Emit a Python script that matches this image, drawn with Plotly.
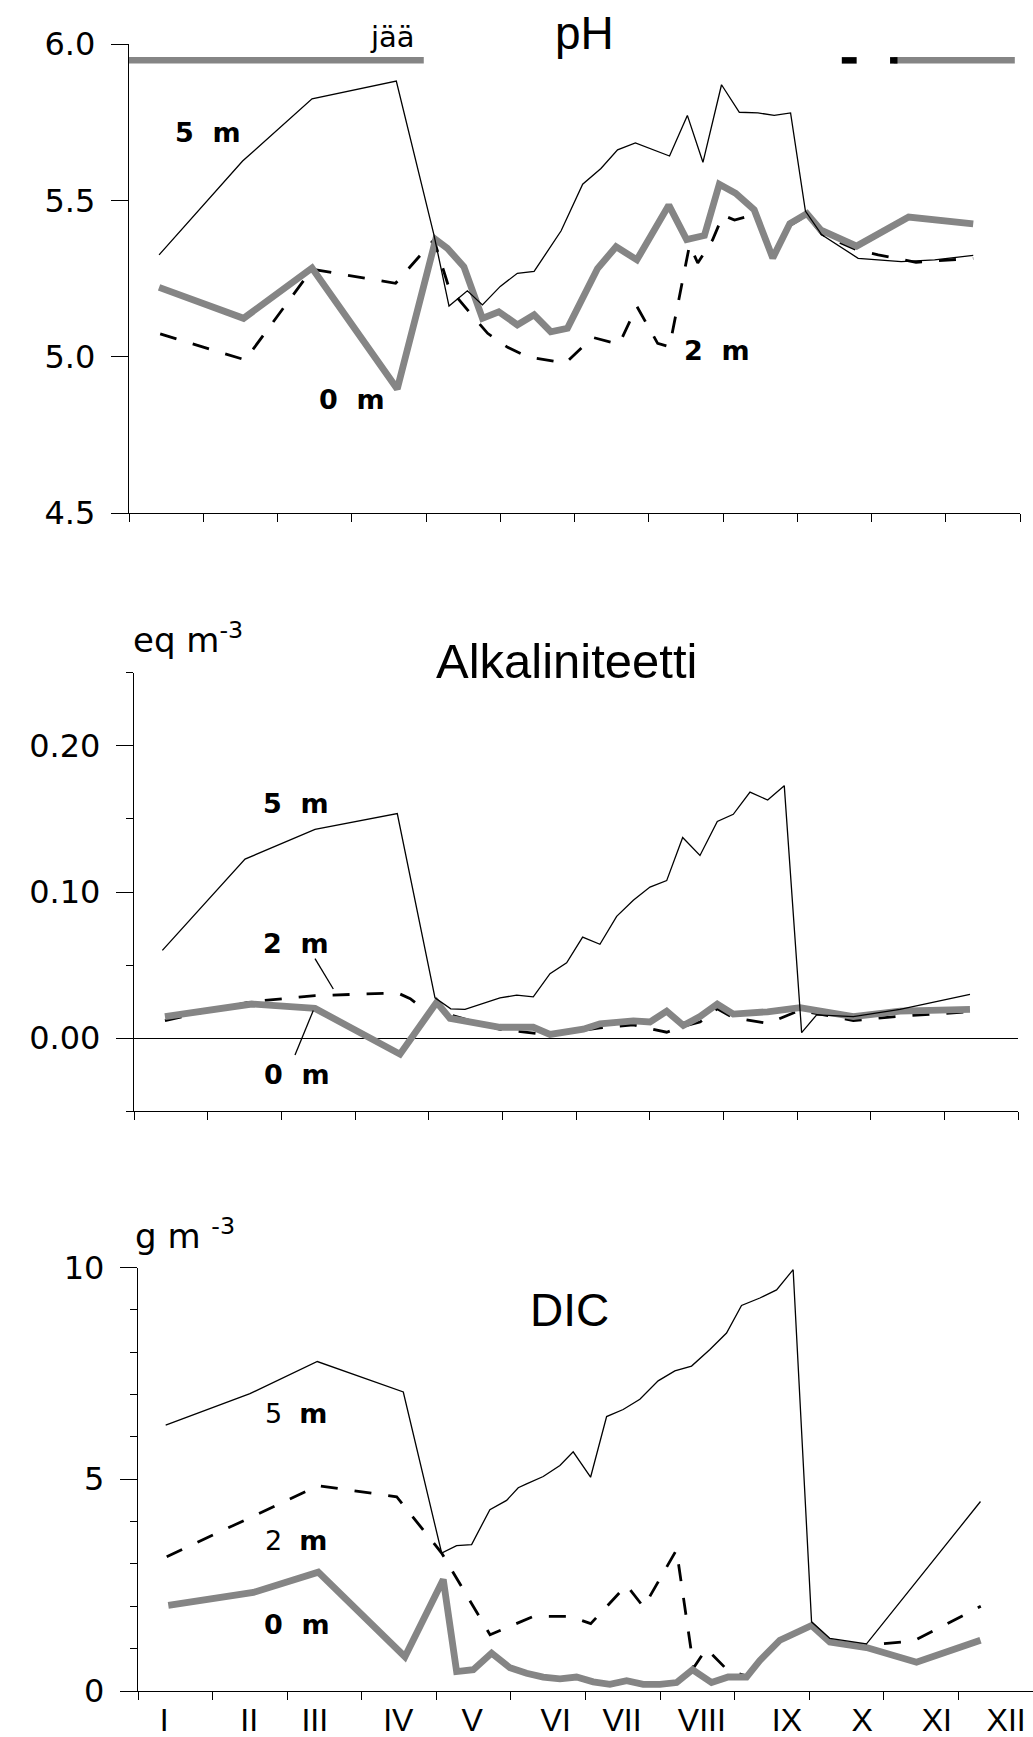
import plotly.graph_objects as go

W, H = 1033, 1737

# ---------------- data (time axis in months: 0 = 1 Jan, 12 = 31 Dec) ----------------
months = ["I", "II", "III", "IV", "V", "VI", "VII", "VIII", "IX", "X", "XI", "XII"]
month_label_pos = [0.35, 1.49, 2.37, 3.49, 4.48, 5.60, 6.49, 7.56, 8.70, 9.71, 10.71, 11.64]
month_ticks = list(range(13))

# pH
ph_t5 = [0.405, 1.53, 2.465, 3.60, 4.107, 4.31, 4.557, 4.76, 5.0, 5.23, 5.456, 5.82, 6.11, 6.356,
         6.58, 6.82, 7.28, 7.52, 7.73, 7.98, 8.22, 8.47, 8.69, 8.91, 9.11, 9.33, 9.82, 10.4, 10.85, 11.37]
ph_v5 = [5.326, 5.626, 5.825, 5.882, 5.39, 5.162, 5.211, 5.166, 5.225, 5.267, 5.273, 5.403, 5.552, 5.602,
         5.662, 5.684, 5.642, 5.772, 5.622, 5.87, 5.782, 5.78, 5.772, 5.78, 5.466, 5.39, 5.315, 5.304, 5.31, 5.324]
ph_t2 = [0.42, 1.565, 2.465, 3.59, 4.107, 4.31, 4.58, 4.83, 5.1, 5.37, 5.88, 6.245, 6.6, 6.84, 7.12, 7.28,
         7.55, 7.66, 7.86, 8.0, 8.155, 8.42, 8.67, 8.9, 9.13, 9.33, 9.8, 10.09, 10.6, 11.1, 11.37]
ph_v2 = [5.073, 4.99, 5.28, 5.235, 5.374, 5.22, 5.144, 5.075, 5.03, 5.0, 4.98, 5.062, 5.04, 5.161, 5.043, 5.032,
         5.358, 5.30, 5.374, 5.453, 5.437, 5.455, 5.325, 5.42, 5.452, 5.392, 5.342, 5.326, 5.302, 5.31, 5.315]
ph_t0 = [0.405, 1.543, 2.465, 3.613, 4.13, 4.287, 4.51, 4.76, 4.98, 5.23, 5.456, 5.68, 5.905, 6.31, 6.56,
         6.84, 7.27, 7.51, 7.75, 7.95, 8.17, 8.42, 8.67, 8.90, 9.13, 9.32, 9.8, 10.5, 11.37]
ph_v0 = [5.222, 5.123, 5.284, 4.897, 5.375, 5.347, 5.288, 5.123, 5.144, 5.102, 5.134, 5.08, 5.091, 5.282, 5.352,
         5.31, 5.485, 5.375, 5.388, 5.552, 5.523, 5.47, 5.316, 5.426, 5.458, 5.405, 5.354, 5.447, 5.425]

# ice cover ("jää") periods
ice_start = [0.0, 10.3]
ice_end = [3.97, 11.93]
ice_mark_start = [9.6, 10.25]
ice_mark_end = [9.8, 10.35]

# Alkalinity (eq m-3)
alk_t5 = [0.385, 1.507, 2.457, 3.574, 4.086, 4.30, 4.493, 4.968, 5.195, 5.42, 5.647, 5.873, 6.09, 6.325, 6.552,
          6.778, 7.004, 7.231, 7.448, 7.683, 7.918, 8.135, 8.362, 8.602, 8.827, 9.063, 9.267, 9.764, 10.398, 11.348]
alk_v5 = [0.060, 0.1225, 0.1429, 0.1537, 0.0275, 0.020, 0.0196, 0.0275, 0.0294, 0.0282, 0.0441, 0.0515, 0.0691,
          0.0642, 0.0833, 0.0944, 0.1034, 0.1078, 0.1373, 0.125, 0.1483, 0.1532, 0.1684, 0.163, 0.1728, 0.0037,
          0.0159, 0.0147, 0.0196, 0.0299]
alk_t2 = [0.42, 1.598, 2.457, 3.574, 3.75, 4.0, 4.109, 4.289, 4.968, 5.647, 6.325, 6.778, 7.231, 7.457, 7.683,
          7.918, 8.135, 8.6, 9.04, 9.764, 10.398, 11.348]
alk_v2 = [0.012, 0.025, 0.029, 0.031, 0.027, 0.017, 0.024, 0.016, 0.006, 0.002, 0.007, 0.009, 0.004, 0.008,
          0.011, 0.02, 0.014, 0.01, 0.019, 0.012, 0.015, 0.018]
alk_t0 = [0.42, 1.598, 2.457, 3.611, 4.109, 4.289, 4.968, 5.42, 5.647, 6.1, 6.325, 6.778, 7.004, 7.231, 7.457,
          7.683, 7.918, 8.135, 8.6, 9.04, 9.764, 10.398, 11.348]
alk_v0 = [0.0147, 0.0233, 0.0203, -0.011, 0.0245, 0.0135, 0.0074, 0.0074, 0.0025, 0.0061, 0.0098, 0.0118, 0.011,
          0.0184, 0.0086, 0.0147, 0.0233, 0.0164, 0.018, 0.0208, 0.0147, 0.0184, 0.0196]

# DIC (g m-3)
dic_t5 = [0.371, 1.501, 2.404, 3.557, 4.071, 4.272, 4.473, 4.718, 4.942, 5.098, 5.21, 5.433, 5.657, 5.835, 6.068,
          6.283, 6.505, 6.729, 6.974, 7.198, 7.422, 7.668, 7.891, 8.092, 8.338, 8.562, 8.784, 9.031, 9.276, 9.768, 11.296]
dic_v5 = [6.28, 7.02, 7.78, 7.06, 3.258, 3.432, 3.458, 4.283, 4.50, 4.80, 4.89, 5.065, 5.326, 5.647, 5.048,
          6.481, 6.646, 6.89, 7.324, 7.559, 7.672, 8.063, 8.453, 9.105, 9.279, 9.47, 9.948, 1.633, 1.242, 1.112, 4.474]
dic_t2 = [0.385, 2.417, 3.468, 4.071, 4.72, 5.1, 5.3, 5.8, 6.07, 6.55, 6.78, 7.22, 7.45, 7.62, 7.9, 8.16, 8.34,
          8.61, 9.03, 9.28, 9.77, 10.4, 11.3]
dic_v2 = [3.171, 4.848, 4.587, 3.258, 1.33, 1.6, 1.76, 1.76, 1.59, 2.50, 1.98, 3.33, 0.55, 1.0, 0.5, 0.35, 0.72,
          1.2, 1.55, 1.18, 1.08, 1.18, 2.0]
dic_t0 = [0.406, 1.546, 2.417, 3.579, 4.093, 4.272, 4.495, 4.741, 4.987, 5.21, 5.433, 5.657, 5.88, 6.103, 6.327,
          6.551, 6.774, 6.997, 7.221, 7.435, 7.69, 7.913, 8.159, 8.338, 8.606, 9.031, 9.276, 9.768, 10.438, 11.296]
dic_v0 = [2.024, 2.328, 2.806, 0.808, 2.632, 0.46, 0.504, 0.895, 0.547, 0.417, 0.33, 0.287, 0.33, 0.217, 0.156,
          0.243, 0.156, 0.156, 0.2, 0.504, 0.2, 0.33, 0.33, 0.721, 1.199, 1.547, 1.156, 1.025, 0.678, 1.199]

# ---------------- styling ----------------
GRAY = "#858585"
TICKFONT = dict(family="DejaVu Sans", size=32, color="black")
TITLEFONT = dict(family="Liberation Sans", size=46, color="black")
LBLFONT = dict(family="DejaVu Sans", size=27, color="black")
UNITFONT = dict(family="DejaVu Sans", size=34, color="black")


def px(x):
    return x / W


def py(y):
    return 1 - y / H


fig = go.Figure()


def add_series(xa, ya, t5, v5, t2, v2, t0, v0):
    fig.add_trace(go.Scatter(x=t2, y=v2, xaxis=xa, yaxis=ya, mode="lines",
                             line=dict(color="black", width=2.8, dash="17px,17px"),
                             showlegend=False, hoverinfo="skip"))
    fig.add_trace(go.Scatter(x=t0, y=v0, xaxis=xa, yaxis=ya, mode="lines",
                             line=dict(color=GRAY, width=6.8), showlegend=False, hoverinfo="skip"))
    fig.add_trace(go.Scatter(x=t5, y=v5, xaxis=xa, yaxis=ya, mode="lines",
                             line=dict(color="black", width=1.3), showlegend=False, hoverinfo="skip"))


add_series("x", "y", ph_t5, ph_v5, ph_t2, ph_v2, ph_t0, ph_v0)
add_series("x2", "y2", alk_t5, alk_v5, alk_t2, alk_v2, alk_t0, alk_v0)
add_series("x3", "y3", dic_t5, dic_v5, dic_t2, dic_v2, dic_t0, dic_v0)

# ice bar at the top of the pH panel
ICE_LEVEL = 5.948


def segs(starts, ends):
    xs, ys = [], []
    for s, e in zip(starts, ends):
        xs += [s, e, None]
        ys += [ICE_LEVEL, ICE_LEVEL, None]
    return xs, ys


ix, iy = segs(ice_start, ice_end)
fig.add_trace(go.Scatter(x=ix, y=iy, xaxis="x", yaxis="y", mode="lines",
                         line=dict(color=GRAY, width=6.5), showlegend=False, hoverinfo="skip", cliponaxis=False))
mx, my = segs(ice_mark_start, ice_mark_end)
fig.add_trace(go.Scatter(x=mx, y=my, xaxis="x", yaxis="y", mode="lines",
                         line=dict(color="black", width=6.5), showlegend=False, hoverinfo="skip", cliponaxis=False))


def xaxis(domain, anchor, labels=False):
    d = dict(domain=domain, anchor=anchor, range=[0, 12], showline=True, linecolor="black", linewidth=1.4,
             showgrid=False, zeroline=False, fixedrange=True, automargin=False)
    if labels:
        d.update(tickmode="array", tickvals=month_label_pos, ticktext=months, ticks="outside", ticklen=0,
                 tickfont=dict(family="Liberation Sans", size=32, color="black"), ticklabelstandoff=0,
                 minor=dict(tickmode="array", tickvals=month_ticks, ticks="outside", ticklen=8,
                            tickcolor="black", tickwidth=1.2))
    else:
        d.update(tickmode="array", tickvals=month_ticks, ticks="outside", ticklen=8, tickwidth=1.2,
                 tickcolor="black", showticklabels=False)
    return d


def yaxis(domain, anchor, rng, tickvals, ticktext, minor_dtick=None, zeroline=False):
    d = dict(domain=domain, anchor=anchor, range=rng, showline=True, linecolor="black", linewidth=1.4,
             showgrid=False, zeroline=zeroline, zerolinecolor="black", zerolinewidth=1.3,
             tickmode="array", tickvals=tickvals, ticktext=ticktext, ticks="outside", ticklen=17,
             tickwidth=1.2, tickcolor="black", tickfont=TICKFONT, ticklabelstandoff=9, fixedrange=True,
             automargin=False)
    if minor_dtick:
        d["minor"] = dict(dtick=minor_dtick, tick0=0, ticks="outside", ticklen=7, tickcolor="black", tickwidth=1.2)
    return d


# panel geometry (pixels)
P1 = dict(x0=129, x1=1020, y0=44.1, y1=513.1)
P2 = dict(x0=134, x1=1018, y0=672.9, y1=1111.1)
P3 = dict(x0=138, x1=1033, y0=1267.5, y1=1691)


def dom(p):
    return [px(p["x0"]), px(p["x1"])], [py(p["y1"]), py(p["y0"])]


d1x, d1y = dom(P1)
d2x, d2y = dom(P2)
d3x, d3y = dom(P3)

annotations = []


def ann(text, x, y, font, xanchor="center", yanchor="middle"):
    annotations.append(dict(text=text, x=px(x), y=py(y), xref="paper", yref="paper", showarrow=False,
                            font=font, xanchor=xanchor, yanchor=yanchor))


NB = "\u00a0"
ann("pH", 584, 33, TITLEFONT)
ann("jää", 392, 37, dict(family="DejaVu Sans", size=29, color="black"))
ann("<b>5" + NB * 2 + "m</b>", 208, 132.5, LBLFONT)
ann("<b>0" + NB * 2 + "m</b>", 352, 399, LBLFONT)
ann("<b>2" + NB * 2 + "m</b>", 717, 350, LBLFONT)

ann("eq m<sup>-3</sup>", 131, 638, UNITFONT, xanchor="left")
ann("Alkaliniteetti", 566, 661, dict(family="Liberation Sans", size=49, color="black"))
ann("<b>5" + NB * 2 + "m</b>", 296, 804, LBLFONT)
ann("<b>2" + NB * 2 + "m</b>", 296, 943, LBLFONT)
ann("<b>0" + NB * 2 + "m</b>", 297, 1074, LBLFONT)

ann("g m" + NB + "<sup>-3</sup>", 133, 1234, UNITFONT, xanchor="left")
ann("DIC", 569, 1310, TITLEFONT)
ann("5" + NB * 2 + "<b>m</b>", 296, 1413, LBLFONT)
ann("2" + NB * 2 + "<b>m</b>", 296, 1540, LBLFONT)
ann("<b>0" + NB * 2 + "m</b>", 297, 1624, LBLFONT)

shapes = [
    dict(type="line", xref="paper", yref="paper", x0=px(315), y0=py(958.6), x1=px(333.3), y1=py(989),
         line=dict(color="black", width=1.3)),
    dict(type="line", xref="paper", yref="paper", x0=px(313.3), y0=py(1010.4), x1=px(295), y1=py(1055),
         line=dict(color="black", width=1.3)),
]

fig.update_layout(
    width=W, height=H, autosize=False,
    margin=dict(l=0, r=0, t=0, b=0, pad=0, autoexpand=False),
    paper_bgcolor="white", plot_bgcolor="white",
    showlegend=False,
    xaxis=xaxis(d1x, "y"),
    yaxis=yaxis(d1y, "x", [4.5, 6.0], [4.5, 5.0, 5.5, 6.0], ["4.5", "5.0", "5.5", "6.0"]),
    xaxis2=xaxis(d2x, "y2"),
    yaxis2=yaxis(d2y, "x2", [-0.05, 0.25], [0, 0.1, 0.2], ["0.00", "0.10", "0.20"], minor_dtick=0.05,
                 zeroline=True),
    xaxis3=xaxis(d3x, "y3", labels=True),
    yaxis3=yaxis(d3y, "x3", [0, 10], [0, 5, 10], ["0", "5", "10"], minor_dtick=1),
    annotations=annotations,
    shapes=shapes,
)

fig.write_html("out.html")
